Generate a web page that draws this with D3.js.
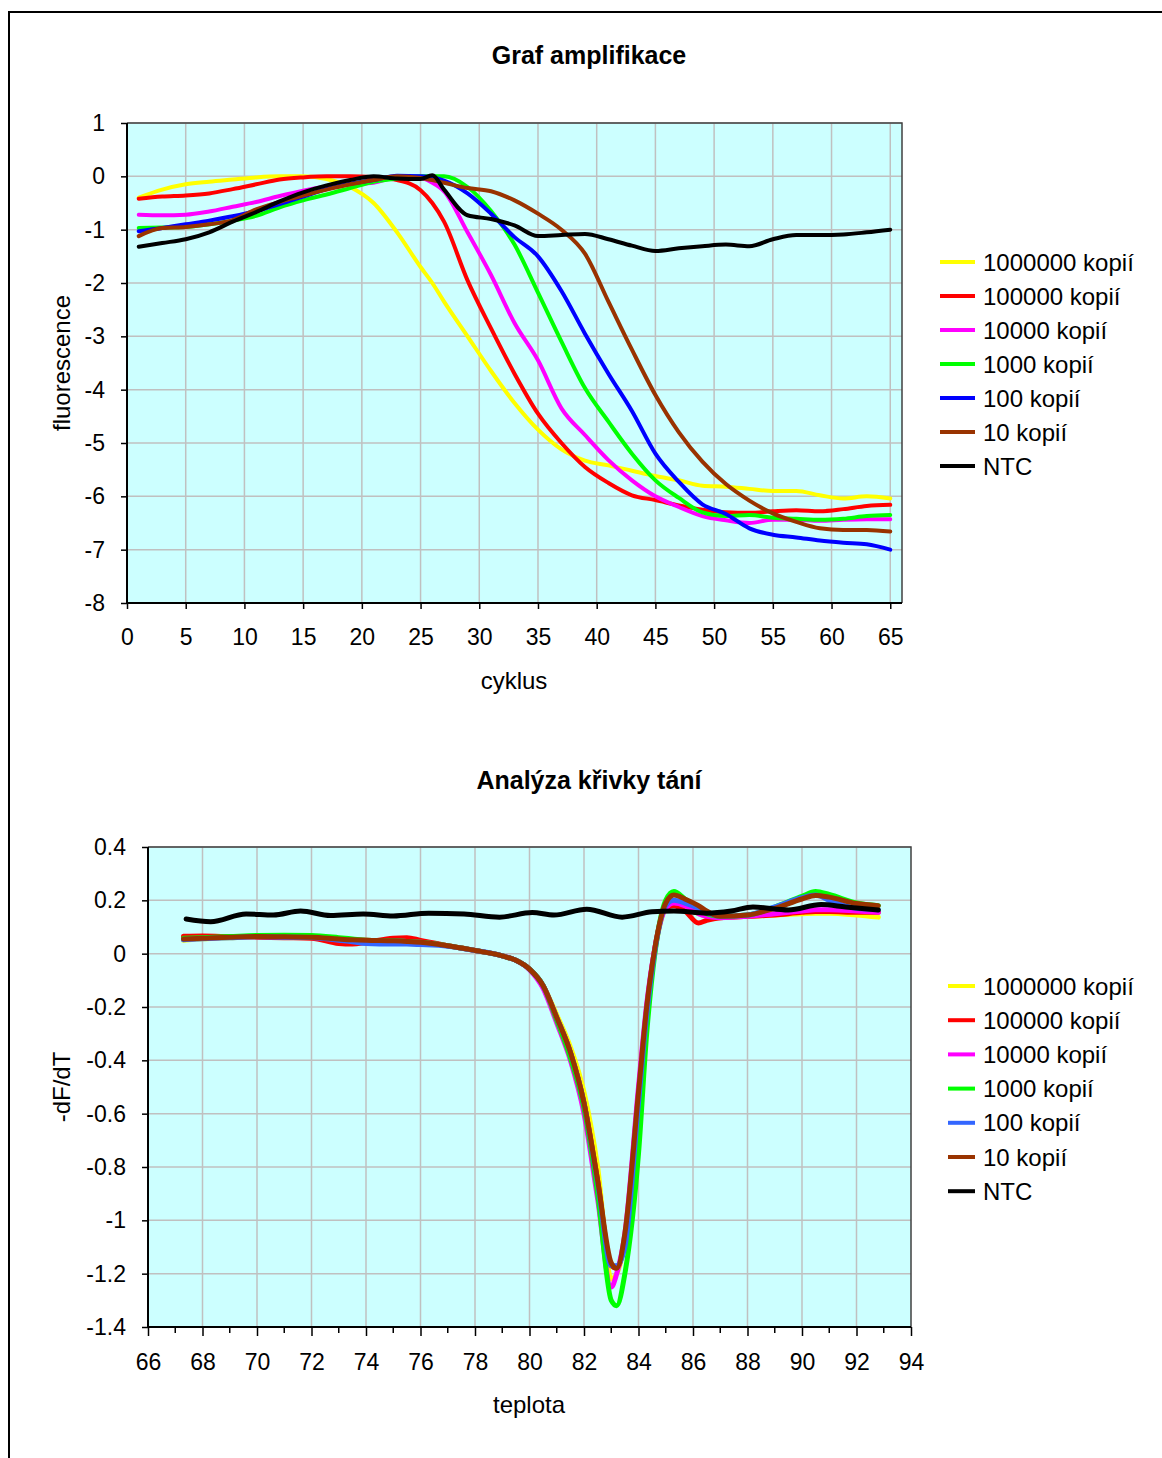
<!DOCTYPE html>
<html>
<head>
<meta charset="utf-8">
<script src="https://cdn.jsdelivr.net/npm/d3@7"></script>
<style>
  body { margin: 0; background: #fff; }
  svg { display: block; font-family: Arial, "Liberation Sans", sans-serif; }
</style>
</head>
<body>
<svg id="chart" width="1162" height="1458"></svg>
<script>
const SERIES_NAMES = ["1000000 kopií", "100000 kopií", "10000 kopií", "1000 kopií", "100 kopií", "10 kopií", "NTC"]
const AMP_COLORS = ["#ffff00", "#ff0000", "#ff00ff", "#00ff00", "#0000ff", "#993300", "#000000"]
const MELT_COLORS = ["#ffff00", "#ff0000", "#ff00ff", "#00ff00", "#3366ff", "#993300", "#000000"]

// amplification: cycles and fluorescence per series
const CYCLES = [1, 3, 5, 7, 9, 11, 13, 15, 17, 19, 21, 23, 25, 26, 27, 29, 31, 33, 35, 37, 39, 41, 43, 45, 47, 49, 51, 53, 55, 57, 59, 61, 63, 65]
const AMP_1000000 = [-0.40, -0.25, -0.15, -0.10, -0.06, -0.02, 0.00, 0.00, -0.05, -0.20, -0.50, -1.05, -1.70, -2.00, -2.35, -3.00, -3.65, -4.25, -4.75, -5.12, -5.33, -5.42, -5.52, -5.62, -5.70, -5.80, -5.82, -5.86, -5.90, -5.90, -5.98, -6.04, -6.00, -6.04]
const AMP_100000 = [-0.42, -0.38, -0.36, -0.32, -0.24, -0.15, -0.06, -0.02, 0.00, 0.00, -0.02, -0.07, -0.26, -0.50, -0.85, -1.95, -2.85, -3.70, -4.45, -5.00, -5.45, -5.75, -5.98, -6.07, -6.17, -6.25, -6.30, -6.31, -6.28, -6.26, -6.28, -6.24, -6.18, -6.16]
const AMP_10000 = [-0.72, -0.73, -0.72, -0.66, -0.57, -0.48, -0.37, -0.27, -0.19, -0.15, -0.12, -0.02, -0.03, -0.12, -0.28, -1.05, -1.85, -2.75, -3.45, -4.35, -4.85, -5.32, -5.70, -6.00, -6.20, -6.37, -6.45, -6.50, -6.44, -6.44, -6.46, -6.44, -6.43, -6.43]
const AMP_1000 = [-0.97, -0.96, -0.95, -0.90, -0.83, -0.74, -0.58, -0.45, -0.34, -0.22, -0.10, -0.04, 0.00, 0.00, 0.00, -0.20, -0.65, -1.28, -2.18, -3.10, -3.97, -4.60, -5.20, -5.70, -6.03, -6.30, -6.37, -6.35, -6.40, -6.42, -6.44, -6.42, -6.37, -6.35]
const AMP_100 = [-1.03, -0.97, -0.90, -0.83, -0.75, -0.65, -0.52, -0.38, -0.24, -0.14, -0.07, 0.01, 0.00, -0.02, -0.08, -0.32, -0.70, -1.14, -1.50, -2.15, -2.95, -3.70, -4.40, -5.20, -5.73, -6.15, -6.33, -6.60, -6.72, -6.77, -6.83, -6.87, -6.90, -7.00]
const AMP_10 = [-1.12, -0.97, -0.95, -0.90, -0.82, -0.62, -0.48, -0.36, -0.25, -0.15, -0.07, 0.00, -0.03, -0.07, -0.12, -0.22, -0.28, -0.45, -0.70, -1.00, -1.45, -2.35, -3.25, -4.10, -4.80, -5.35, -5.77, -6.08, -6.32, -6.48, -6.60, -6.63, -6.63, -6.66]
const AMP_NTC = [-1.32, -1.25, -1.18, -1.05, -0.85, -0.67, -0.47, -0.30, -0.17, -0.07, 0.00, -0.04, -0.05, 0.02, -0.25, -0.73, -0.80, -0.92, -1.12, -1.10, -1.08, -1.18, -1.30, -1.40, -1.35, -1.31, -1.28, -1.31, -1.18, -1.10, -1.10, -1.09, -1.05, -1.00]

// melting curve: temperatures and -dF/dT per series
const TEMPS = [67.3, 68, 69, 70, 71, 72, 73, 73.5, 74, 75, 75.5, 76, 77, 78, 79, 79.5, 80, 80.5, 81, 81.5, 82, 82.5, 83, 83.2, 83.5, 84, 84.3, 84.6, 85, 85.3, 85.7, 86.2, 86.5, 87, 88, 89, 90, 90.5, 91, 92, 92.8]
const MELT_1000000 = [0.050, 0.056, 0.060, 0.063, 0.062, 0.061, 0.055, 0.052, 0.050, 0.048, 0.046, 0.043, 0.030, 0.012, -0.008, -0.025, -0.058, -0.12, -0.23, -0.35, -0.52, -0.80, -1.22, -1.20, -1.07, -0.55, -0.22, 0.01, 0.17, 0.19, 0.17, 0.15, 0.14, 0.135, 0.140, 0.145, 0.150, 0.152, 0.152, 0.145, 0.137]
const MELT_100000 = [0.065, 0.066, 0.064, 0.062, 0.060, 0.058, 0.038, 0.036, 0.042, 0.058, 0.060, 0.050, 0.030, 0.012, -0.008, -0.025, -0.058, -0.12, -0.24, -0.37, -0.56, -0.85, -1.17, -1.18, -1.07, -0.53, -0.21, 0.02, 0.17, 0.18, 0.16, 0.115, 0.125, 0.135, 0.140, 0.145, 0.155, 0.158, 0.158, 0.155, 0.155]
const MELT_10000 = [0.055, 0.058, 0.062, 0.064, 0.063, 0.062, 0.055, 0.052, 0.050, 0.048, 0.046, 0.043, 0.030, 0.012, -0.008, -0.025, -0.060, -0.13, -0.26, -0.40, -0.60, -0.92, -1.25, -1.20, -1.05, -0.50, -0.19, 0.02, 0.17, 0.19, 0.18, 0.15, 0.14, 0.135, 0.140, 0.150, 0.160, 0.165, 0.165, 0.160, 0.155]
const MELT_1000 = [0.058, 0.060, 0.064, 0.068, 0.069, 0.068, 0.060, 0.055, 0.050, 0.048, 0.046, 0.043, 0.030, 0.012, -0.008, -0.025, -0.058, -0.12, -0.25, -0.39, -0.58, -0.90, -1.30, -1.32, -1.20, -0.75, -0.30, 0.00, 0.20, 0.233, 0.205, 0.17, 0.15, 0.14, 0.145, 0.175, 0.215, 0.233, 0.222, 0.19, 0.18]
const MELT_100 = [0.052, 0.056, 0.060, 0.063, 0.062, 0.061, 0.050, 0.045, 0.038, 0.036, 0.036, 0.034, 0.028, 0.012, -0.008, -0.025, -0.058, -0.12, -0.24, -0.37, -0.56, -0.86, -1.17, -1.17, -1.10, -0.56, -0.23, 0.01, 0.18, 0.20, 0.19, 0.17, 0.155, 0.14, 0.145, 0.175, 0.21, 0.22, 0.20, 0.17, 0.165]
const MELT_10 = [0.055, 0.058, 0.062, 0.064, 0.063, 0.062, 0.055, 0.052, 0.050, 0.048, 0.046, 0.043, 0.030, 0.012, -0.008, -0.025, -0.058, -0.12, -0.24, -0.37, -0.56, -0.85, -1.16, -1.18, -1.05, -0.52, -0.20, 0.02, 0.19, 0.22, 0.205, 0.18, 0.16, 0.14, 0.145, 0.17, 0.205, 0.218, 0.212, 0.188, 0.18]
const NTC_TEMPS = [67.4, 68.3, 69.6, 70.6, 71.6, 72.7, 73.9, 75.0, 76.3, 77.6, 78.9, 80.1, 80.9, 82.1, 83.4, 84.5, 85.3, 86.5, 87.4, 88.2, 89.5, 90.7, 91.6, 92.8]
const MELT_NTC = [0.130, 0.120, 0.149, 0.145, 0.160, 0.143, 0.149, 0.141, 0.152, 0.149, 0.137, 0.154, 0.145, 0.167, 0.137, 0.157, 0.160, 0.152, 0.160, 0.175, 0.164, 0.184, 0.175, 0.164]

const AMP_X_TICKS = [0, 5, 10, 15, 20, 25, 30, 35, 40, 45, 50, 55, 60, 65]
const AMP_Y_TICKS = [1, 0, -1, -2, -3, -4, -5, -6, -7, -8]
const MELT_X_TICKS = [66, 68, 70, 72, 74, 76, 78, 80, 82, 84, 86, 88, 90, 92, 94]
const MELT_Y_TICKS = [0.4, 0.2, 0, -0.2, -0.4, -0.6, -0.8, -1, -1.2, -1.4]

const svg = d3.select("#chart")

// outer frame (cut off at right and bottom)
svg.append("rect")
  .attr("x", 9).attr("y", 12)
  .attr("width", 1200).attr("height", 1500)
  .attr("fill", "none").attr("stroke", "#000").attr("stroke-width", 2)

// plain hyphen for negatives, like the original
const plain = d => String(+d.toFixed(1))

function drawChart(cfg) {
  const { left, top, width, height } = cfg
  const x = d3.scaleLinear().domain(cfg.xDomain).range([left, left + width])
  const y = d3.scaleLinear().domain(cfg.yDomain).range([top + height, top])
  const g = svg.append("g")

  g.append("rect")
    .attr("x", left).attr("y", top).attr("width", width).attr("height", height)
    .attr("fill", "#ccffff")

  // grid
  g.selectAll(".vgrid").data(cfg.xGrid).enter().append("line")
    .attr("x1", d => x(d)).attr("x2", d => x(d))
    .attr("y1", top).attr("y2", top + height)
    .attr("stroke", "#c0c0c0").attr("stroke-width", 1.5)
  g.selectAll(".hgrid").data(cfg.yTicks).enter().append("line")
    .attr("x1", left).attr("x2", left + width)
    .attr("y1", d => y(d)).attr("y2", d => y(d))
    .attr("stroke", "#c0c0c0").attr("stroke-width", 1.5)

  // plot frame (top and right)
  g.append("path")
    .attr("d", `M${left},${top}H${left + width}V${top + height}`)
    .attr("fill", "none").attr("stroke", "#404040").attr("stroke-width", 1.5)

  // series
  const line = d3.line()
    .x(d => x(d[0])).y(d => y(d[1]))
    .curve(d3.curveMonotoneX)
  cfg.series.forEach(s => {
    g.append("path")
      .datum(d3.zip(s.xs, s.ys))
      .attr("d", line)
      .attr("fill", "none")
      .attr("stroke", s.color)
      .attr("stroke-width", cfg.lineWidth)
      .attr("stroke-linejoin", "round")
      .attr("stroke-linecap", "round")
  })

  // axes
  const yAxis = g.append("g")
    .attr("transform", `translate(${left},0)`)
    .call(d3.axisLeft(y).tickValues(cfg.yTicks).tickSize(6).tickPadding(cfg.yPad)
      .tickFormat(plain))
  const xAxis = g.append("g")
    .attr("transform", `translate(0,${top + height})`)
    .call(d3.axisBottom(x).tickValues(cfg.xTicks).tickSize(cfg.xTickSize).tickPadding(cfg.xPad)
      .tickFormat(plain))
  if (cfg.xMinor) {
    xAxis.selectAll(".minor").data(cfg.xMinor).enter().append("line")
      .attr("x1", d => x(d)).attr("x2", d => x(d))
      .attr("y1", 0).attr("y2", 6)
      .attr("stroke", "#000").attr("stroke-width", 1.5)
  }
  ;[yAxis, xAxis].forEach(a => {
    a.select(".domain").attr("stroke", "#000").attr("stroke-width", 2)
    a.selectAll(".tick line").attr("stroke", "#000").attr("stroke-width", 1.5)
    a.selectAll(".tick text")
      .attr("font-size", "23px")
      .attr("font-family", "Arial, 'Liberation Sans', sans-serif")
      .attr("fill", "#000")
  })
  yAxis.select(".domain").attr("d", `M0,${top}V${top + height}`)
  xAxis.select(".domain").attr("d", `M${left},0H${left + width}`)

  // titles
  g.append("text")
    .attr("x", cfg.titleX).attr("y", cfg.titleY)
    .attr("text-anchor", "middle")
    .attr("font-size", "25px").attr("font-weight", "bold")
    .text(cfg.title)
  g.append("text")
    .attr("x", cfg.xLabelX).attr("y", cfg.xLabelY)
    .attr("text-anchor", "middle")
    .attr("font-size", "24px")
    .text(cfg.xLabel)
  g.append("text")
    .attr("transform", `translate(${cfg.yLabelX},${cfg.yLabelY}) rotate(-90)`)
    .attr("text-anchor", "middle")
    .attr("dy", "0.35em")
    .attr("font-size", "24px")
    .text(cfg.yLabel)

  // legend
  const leg = g.append("g")
  cfg.series.forEach((s, i) => {
    const ly = cfg.legendY + i * cfg.legendStep
    leg.append("line")
      .attr("x1", cfg.legendX).attr("x2", 975)
      .attr("y1", ly).attr("y2", ly)
      .attr("stroke", s.color).attr("stroke-width", 4)
    leg.append("text")
      .attr("x", 983).attr("y", ly)
      .attr("dy", "0.36em")
      .attr("font-size", "24px")
      .text(s.name)
  })
}

const ampSeries = [AMP_1000000, AMP_100000, AMP_10000, AMP_1000, AMP_100, AMP_10, AMP_NTC]
  .map((ys, i) => ({ name: SERIES_NAMES[i], color: AMP_COLORS[i], xs: CYCLES, ys }))

const meltSeries = [MELT_1000000, MELT_100000, MELT_10000, MELT_1000, MELT_100, MELT_10, MELT_NTC]
  .map((ys, i) => ({ name: SERIES_NAMES[i], color: MELT_COLORS[i], xs: i === 6 ? NTC_TEMPS : TEMPS, ys }))

drawChart({
  left: 127, top: 123, width: 775, height: 480,
  xDomain: [0, 66], yDomain: [-8, 1],
  xTicks: AMP_X_TICKS, xGrid: AMP_X_TICKS.slice(1), yTicks: AMP_Y_TICKS,
  yPad: 16, xTickSize: 6, xPad: 20,
  lineWidth: 4, series: ampSeries,
  title: "Graf amplifikace", titleX: 589, titleY: 64,
  xLabel: "cyklus", xLabelX: 514, xLabelY: 689,
  yLabel: "fluorescence", yLabelX: 62, yLabelY: 363,
  legendX: 940, legendY: 262, legendStep: 34
})

drawChart({
  left: 148, top: 847, width: 763, height: 480,
  xDomain: [66, 94], yDomain: [-1.4, 0.4],
  xTicks: MELT_X_TICKS, xGrid: MELT_X_TICKS.slice(1, -1), yTicks: MELT_Y_TICKS,
  yPad: 16, xTickSize: 9, xPad: 18,
  xMinor: d3.range(67, 94, 2),
  lineWidth: 5, series: meltSeries,
  title: "Analýza křivky tání", titleX: 589, titleY: 789,
  xLabel: "teplota", xLabelX: 529, xLabelY: 1413,
  yLabel: "-dF/dT", yLabelX: 62, yLabelY: 1087,
  legendX: 948, legendY: 986, legendStep: 34.2
})
</script>
</body>
</html>
